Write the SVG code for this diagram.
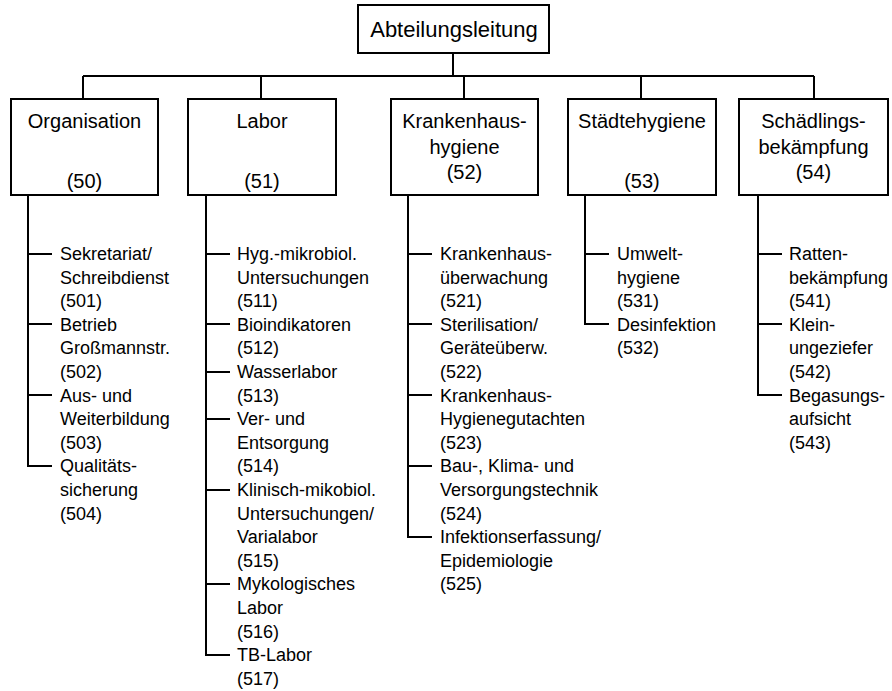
<svg xmlns="http://www.w3.org/2000/svg" width="892" height="691" viewBox="0 0 892 691">
<style>
  .box { fill: #fff; stroke: #000; stroke-width: 2; }
  .ln { fill: none; stroke: #000; stroke-width: 2; }
  text { font-family: "Liberation Sans", Arial, sans-serif; fill: #000; }
  .top { font-size: 22px; text-anchor: middle; }
  .dept { font-size: 20px; text-anchor: middle; }
  .sub { font-size: 18px; }
</style>
<rect width="892" height="691" fill="#fff"/>
<g id="connectors">
  <path class="ln" d="M453 53V76M83 76H814M83 76V99M261 76V99M464 76V99M641 76V99M814 76V99"/>
  <path class="ln" d="M28 195V466H52M28 254H52M28 324H52M28 395H52"/>
  <path class="ln" d="M206 195V655H230M206 254H230M206 324H230M206 372H230M206 419H230M206 490H230M206 584H230"/>
  <path class="ln" d="M408 195V537H432M408 254H432M408 324H432M408 395H432M408 466H432"/>
  <path class="ln" d="M585 195V324H609M585 254H609"/>
  <path class="ln" d="M758 195V395H782M758 254H782M758 324H782"/>
</g>
<g id="abteilungsleitung">
  <rect class="box" x="358" y="5" width="191" height="48"/>
  <text class="top" x="454" y="37">Abteilungsleitung</text>
</g>
<g id="organisation">
  <rect class="box" x="11" y="99" width="147" height="96"/>
  <text class="dept" x="84.5" y="128">Organisation</text>
  <text class="dept" x="84.5" y="188">(50)</text>
</g>
<g id="labor">
  <rect class="box" x="188" y="99" width="148" height="96"/>
  <text class="dept" x="262" y="128">Labor</text>
  <text class="dept" x="262" y="188">(51)</text>
</g>
<g id="krankenhaushygiene">
  <rect class="box" x="391" y="99" width="147" height="96"/>
  <text class="dept" x="464.5" y="128">Krankenhaus-</text>
  <text class="dept" x="464.5" y="154">hygiene</text>
  <text class="dept" x="464.5" y="179">(52)</text>
</g>
<g id="staedtehygiene">
  <rect class="box" x="568" y="99" width="148" height="96"/>
  <text class="dept" x="642" y="128">Städtehygiene</text>
  <text class="dept" x="642" y="188">(53)</text>
</g>
<g id="schaedlingsbekaempfung">
  <rect class="box" x="739" y="99" width="149" height="96"/>
  <text class="dept" x="813.5" y="128">Schädlings-</text>
  <text class="dept" x="813.5" y="154">bekämpfung</text>
  <text class="dept" x="813.5" y="179">(54)</text>
</g>
<g id="org-units">
  <text class="sub" x="60" y="260"><tspan x="60">Sekretariat/</tspan><tspan x="60" dy="23.6">Schreibdienst</tspan><tspan x="60" dy="23.6">(501)</tspan><tspan x="60" dy="23.6">Betrieb</tspan><tspan x="60" dy="23.6">Großmannstr.</tspan><tspan x="60" dy="23.6">(502)</tspan><tspan x="60" dy="23.6">Aus- und</tspan><tspan x="60" dy="23.6">Weiterbildung</tspan><tspan x="60" dy="23.6">(503)</tspan><tspan x="60" dy="23.6">Qualitäts-</tspan><tspan x="60" dy="23.6">sicherung</tspan><tspan x="60" dy="23.6">(504)</tspan></text>
</g>
<g id="labor-units">
  <text class="sub" x="237" y="260"><tspan x="237">Hyg.-mikrobiol.</tspan><tspan x="237" dy="23.6">Untersuchungen</tspan><tspan x="237" dy="23.6">(511)</tspan><tspan x="237" dy="23.6">Bioindikatoren</tspan><tspan x="237" dy="23.6">(512)</tspan><tspan x="237" dy="23.6">Wasserlabor</tspan><tspan x="237" dy="23.6">(513)</tspan><tspan x="237" dy="23.6">Ver- und</tspan><tspan x="237" dy="23.6">Entsorgung</tspan><tspan x="237" dy="23.6">(514)</tspan><tspan x="237" dy="23.6">Klinisch-mikobiol.</tspan><tspan x="237" dy="23.6">Untersuchungen/</tspan><tspan x="237" dy="23.6">Varialabor</tspan><tspan x="237" dy="23.6">(515)</tspan><tspan x="237" dy="23.6">Mykologisches</tspan><tspan x="237" dy="23.6">Labor</tspan><tspan x="237" dy="23.6">(516)</tspan><tspan x="237" dy="23.6">TB-Labor</tspan><tspan x="237" dy="23.6">(517)</tspan></text>
</g>
<g id="krankenhaus-units">
  <text class="sub" x="440" y="260"><tspan x="440">Krankenhaus-</tspan><tspan x="440" dy="23.6">überwachung</tspan><tspan x="440" dy="23.6">(521)</tspan><tspan x="440" dy="23.6">Sterilisation/</tspan><tspan x="440" dy="23.6">Geräteüberw.</tspan><tspan x="440" dy="23.6">(522)</tspan><tspan x="440" dy="23.6">Krankenhaus-</tspan><tspan x="440" dy="23.6">Hygienegutachten</tspan><tspan x="440" dy="23.6">(523)</tspan><tspan x="440" dy="23.6">Bau-, Klima- und</tspan><tspan x="440" dy="23.6">Versorgungstechnik</tspan><tspan x="440" dy="23.6">(524)</tspan><tspan x="440" dy="23.6">Infektionserfassung/</tspan><tspan x="440" dy="23.6">Epidemiologie</tspan><tspan x="440" dy="23.6">(525)</tspan></text>
</g>
<g id="staedte-units">
  <text class="sub" x="617" y="260"><tspan x="617">Umwelt-</tspan><tspan x="617" dy="23.6">hygiene</tspan><tspan x="617" dy="23.6">(531)</tspan><tspan x="617" dy="23.6">Desinfektion</tspan><tspan x="617" dy="23.6">(532)</tspan></text>
</g>
<g id="schaedlings-units">
  <text class="sub" x="789" y="260"><tspan x="789">Ratten-</tspan><tspan x="789" dy="23.6">bekämpfung</tspan><tspan x="789" dy="23.6">(541)</tspan><tspan x="789" dy="23.6">Klein-</tspan><tspan x="789" dy="23.6">ungeziefer</tspan><tspan x="789" dy="23.6">(542)</tspan><tspan x="789" dy="23.6">Begasungs-</tspan><tspan x="789" dy="23.6">aufsicht</tspan><tspan x="789" dy="23.6">(543)</tspan></text>
</g>
</svg>
